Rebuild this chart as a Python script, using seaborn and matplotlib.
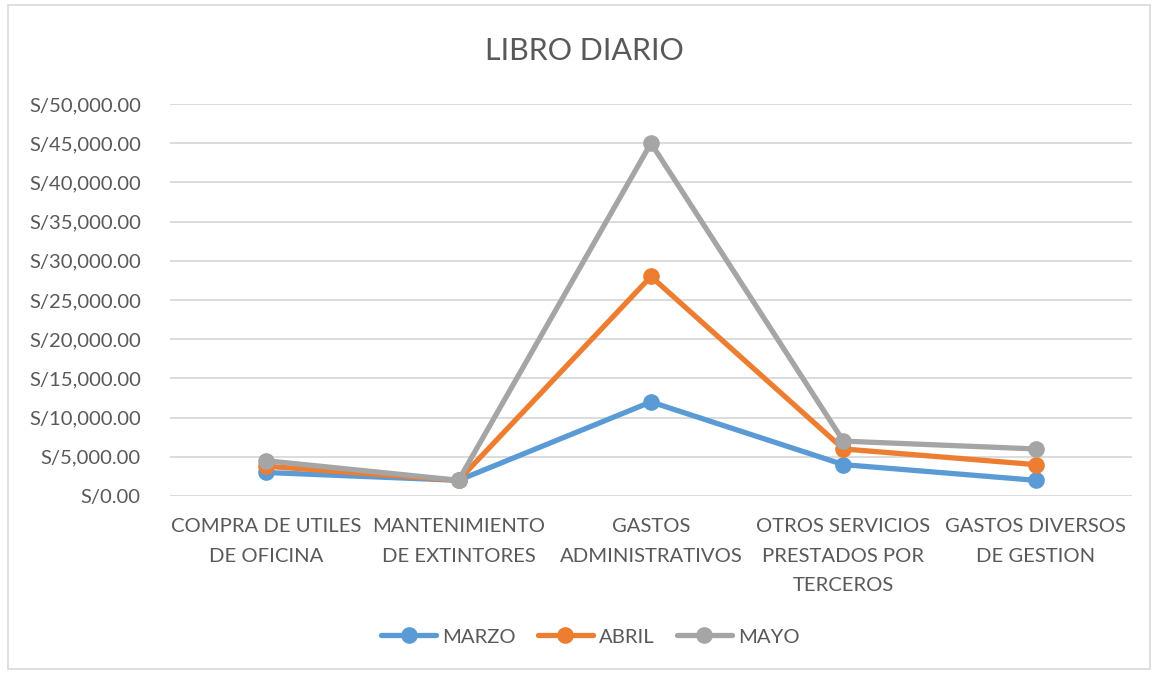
import pandas as pd
import seaborn as sns
import matplotlib.pyplot as plt
from matplotlib.patches import Rectangle
from matplotlib.ticker import FuncFormatter

categorias = ['COMPRA DE UTILES\nDE OFICINA', 'MANTENIMIENTO\nDE EXTINTORES',
              'GASTOS\nADMINISTRATIVOS', 'OTROS SERVICIOS\nPRESTADOS POR\nTERCEROS',
              'GASTOS DIVERSOS\nDE GESTION']
marzo = [3000, 2000, 12000, 4000, 2000]
abril = [3800, 2000, 28000, 6000, 4000]
mayo = [4500, 2000, 45000, 7000, 6000]

series = {'MARZO': marzo, 'ABRIL': abril, 'MAYO': mayo}
colores = {'MARZO': '#5b9bd5', 'ABRIL': '#ed7d31', 'MAYO': '#a5a5a5'}

rows = []
for mes, vals in series.items():
    for i, v in enumerate(vals):
        rows.append({'pos': i, 'mes': mes, 'monto': v})
df = pd.DataFrame(rows)

sns.set_style('white')
plt.rcParams['font.family'] = ['Lato', 'DejaVu Sans']
txt = '#595959'

fig = plt.figure(figsize=(11.53, 6.74), dpi=100)
ax = fig.add_axes([0.1474, 0.2641, 0.8344, 0.5816])

sns.lineplot(data=df, x='pos', y='monto', hue='mes', palette=colores,
             marker='o', markersize=12, markeredgewidth=0, linewidth=3.8,
             sort=False, ax=ax, zorder=3, legend=False)

ax.set_xlim(-0.5, 4.5)
ax.set_ylim(0, 50000)
ax.set_yticks(range(0, 50001, 5000))
ax.yaxis.set_major_formatter(FuncFormatter(lambda v, p: f'S/{v:,.2f}'))
ax.set_xticks(range(len(categorias)))
ax.set_xticklabels(categorias, linespacing=1.9, va='top')
ax.tick_params(axis='both', length=0, labelsize=14.6, colors=txt)
ax.tick_params(axis='x', pad=16)
ax.tick_params(axis='y', pad=21)
ax.grid(axis='y', color='#d9d9d9', linewidth=1.3)
ax.set_axisbelow(True)
for s in ax.spines.values():
    s.set_visible(False)
ax.set_xlabel('')
ax.set_ylabel('')

fig.text(0.507, 0.925, 'LIBRO DIARIO', fontsize=22, color=txt, ha='center', va='center')

handles = [plt.Line2D([], [], color=colores[m], marker='o', markersize=12,
                      markeredgewidth=0, linewidth=3.8) for m in series]
fig.legend(handles, list(series), loc='center', bbox_to_anchor=(0.512, 0.055), ncol=3,
           frameon=False, fontsize=14.6, labelcolor=txt, handlelength=2.7,
           columnspacing=1.1, handletextpad=0.3)

fig.patches.append(Rectangle((0.007, 0.007), 0.99, 0.985, transform=fig.transFigure,
                             fill=False, edgecolor='#d9d9d9', linewidth=1.2))

fig.savefig('out.png', dpi=100)
